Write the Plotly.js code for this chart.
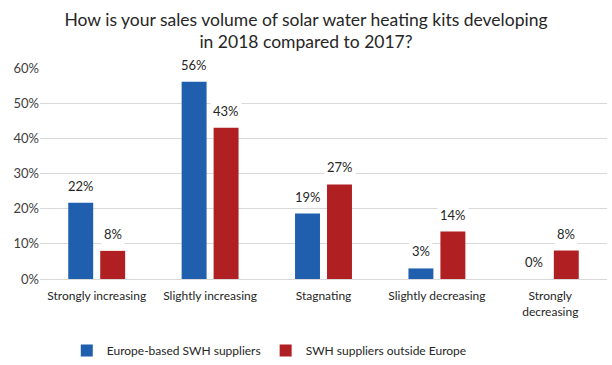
<!DOCTYPE html>
<html>
<head>
<meta charset="utf-8">
<script src="https://cdn.plot.ly/plotly-3.0.1.min.js"></script>
<style>html,body{margin:0;padding:0;background:#fff}#chart{width:612px;height:365px}</style>
</head>
<body>
<div id="chart"></div>
<script>
const categories = ["Strongly increasing", "Slightly increasing", "Stagnating", "Slightly decreasing", "Strongly<br>decreasing"];
const seriesNames = ["Europe-based SWH suppliers", "SWH suppliers outside Europe"];
const europeValues = [21.7, 56.1, 18.6, 3.0, 0];
const outsideValues = [8.0, 43.0, 26.9, 13.5, 8.1];
const yTickValues = [0, 10, 20, 30, 40, 50, 60];
const yTickLabels = ["0%", "10%", "20%", "30%", "40%", "50%", "60%"];

const colors = ["#1F5FAD", "#B01F22"];
const font = "Lato, 'Open Sans', sans-serif";

const traces = [europeValues, outsideValues].map((vals, k) => ({
  type: "bar",
  name: seriesNames[k],
  x: categories,
  y: vals,
  marker: {color: colors[k]},
  hoverinfo: "none"
}));

const annotations = [];
[europeValues, outsideValues].forEach((vals, k) => {
  vals.forEach((v, i) => {
    annotations.push({
      x: categories[i], y: v, xref: "x", yref: "y",
      text: Math.round(v) + "%",
      showarrow: false, yanchor: "bottom",
      xshift: k === 0 ? -16 : 16, yshift: 6,
      bgcolor: "#ffffff", borderpad: 2,
      font: {family: font, size: 13, color: "#262626"}
    });
  });
});

const layout = {
  width: 612, height: 365,
  margin: {l: 40, r: 5, t: 68, b: 86},
  paper_bgcolor: "#ffffff", plot_bgcolor: "#ffffff",
  title: {
    text: "How is your sales volume of solar water heating kits developing<br>in 2018 compared to 2017?",
    font: {family: font, size: 17.5, color: "#262626"},
    x: 0.5, xanchor: "center", xref: "container",
    y: 0.93, yanchor: "bottom", yref: "container"
  },
  barmode: "group",
  bargap: 0.436,
  bargroupgap: 0.22,
  xaxis: {
    type: "category",
    tickfont: {family: font, size: 12, color: "#262626"},
    showgrid: false, zeroline: false, showline: false,
    ticks: "", ticklen: 0, automargin: false,
    ticklabelstandoff: 8
  },
  yaxis: {
    range: [0, 60],
    tickvals: yTickValues, ticktext: yTickLabels,
    tickfont: {family: font, size: 13, color: "#404040"},
    showgrid: true, gridcolor: "#D9D9D9", gridwidth: 1,
    zeroline: true, zerolinecolor: "#D9D9D9", zerolinewidth: 1,
    showline: false, ticks: "", automargin: false
  },
  legend: {
    orientation: "h",
    x: 0.44, xanchor: "center", xref: "container",
    y: 20, yanchor: "middle", yref: "container",
    font: {family: font, size: 12, color: "#262626"},
    itemwidth: 30,
    traceorder: "normal"
  },
  annotations: annotations,
  showlegend: true
};

Plotly.newPlot("chart", traces, layout, {displayModeBar: false, staticPlot: true});
</script>
</body>
</html>
